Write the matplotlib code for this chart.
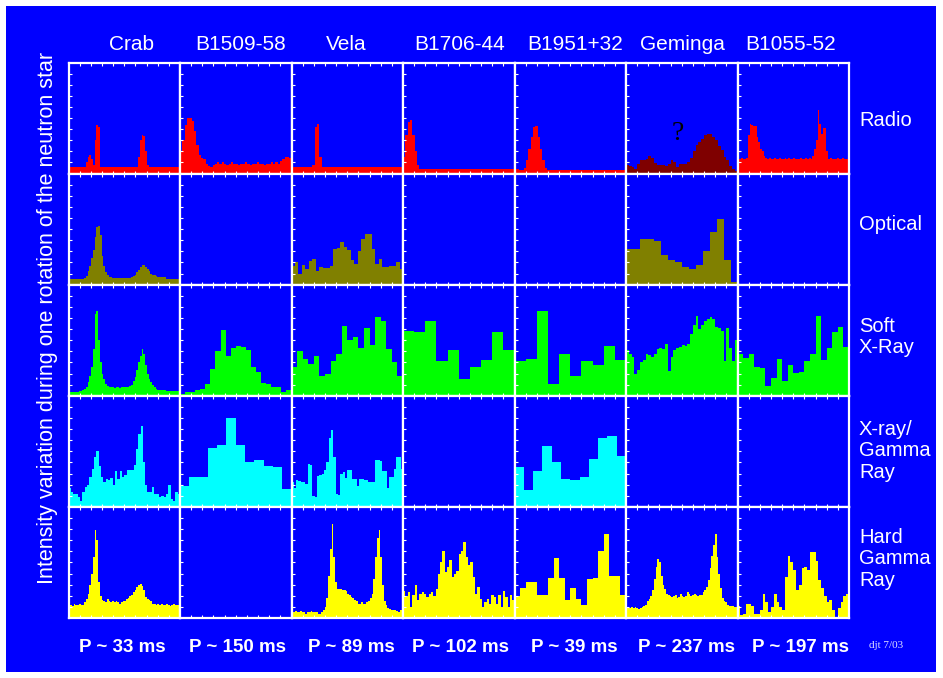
import numpy as np
import matplotlib
matplotlib.use("Agg")
import matplotlib.pyplot as plt
from matplotlib.patches import Rectangle

pulsars = ["Crab", "B1509-58", "Vela", "B1706-44", "B1951+32", "Geminga", "B1055-52"]
periods = ["P ~ 33 ms", "P ~ 150 ms", "P ~ 89 ms", "P ~ 102 ms", "P ~ 39 ms", "P ~ 237 ms", "P ~ 197 ms"]
bands = ["Radio", "Optical", "Soft\nX-Ray", "X-ray/\nGamma\nRay", "Hard\nGamma\nRay"]

# ---- radio ----
crab_radio = [0.06, 0.06, 0.06, 0.06, 0.06, 0.06, 0.06, 0.06,
              0.06, 0.06, 0.10, 0.15, 0.17, 0.13, 0.08, 0.30,
              0.44, 0.42, 0.06, 0.06, 0.06, 0.06, 0.06, 0.06,
              0.06, 0.06, 0.06, 0.06, 0.06, 0.06, 0.06, 0.06,
              0.06, 0.06, 0.06, 0.06, 0.06, 0.06, 0.06, 0.06,
              0.15, 0.30, 0.345, 0.34, 0.20, 0.08, 0.06, 0.06,
              0.06, 0.06, 0.06, 0.06, 0.06, 0.06, 0.06, 0.06,
              0.06, 0.06, 0.06, 0.06, 0.06, 0.06, 0.06, 0.06]
b1509_radio = [0.20, 0.30, 0.44, 0.50, 0.50, 0.47, 0.38, 0.26,
               0.17, 0.14, 0.13, 0.09, 0.07, 0.06, 0.08, 0.09,
               0.10, 0.09, 0.10, 0.09, 0.08, 0.09, 0.10, 0.09,
               0.09, 0.08, 0.09, 0.09, 0.10, 0.09, 0.08, 0.09,
               0.09, 0.10, 0.09, 0.09, 0.08, 0.09, 0.09, 0.10,
               0.09, 0.10, 0.09, 0.11, 0.13, 0.15, 0.15, 0.14]
vela_radio = [0.06, 0.06, 0.06, 0.06, 0.06, 0.06, 0.06, 0.06,
              0.06, 0.08, 0.42, 0.45, 0.15, 0.06, 0.06, 0.06,
              0.06, 0.06, 0.06, 0.06, 0.06, 0.06, 0.06, 0.06,
              0.06, 0.06, 0.06, 0.06, 0.06, 0.06, 0.06, 0.06,
              0.06, 0.06, 0.06, 0.06, 0.06, 0.06, 0.06, 0.06,
              0.06, 0.06, 0.06, 0.06, 0.06, 0.06, 0.06, 0.06]
b1706_radio = [0.15, 0.35, 0.46, 0.48, 0.35, 0.20, 0.08, 0.045,
               0.045, 0.045, 0.045, 0.045, 0.045, 0.045, 0.045, 0.045,
               0.045, 0.045, 0.045, 0.045, 0.045, 0.045, 0.045, 0.045,
               0.045, 0.045, 0.045, 0.045, 0.045, 0.045, 0.045, 0.045,
               0.045, 0.045, 0.045, 0.045, 0.045, 0.045, 0.045, 0.045,
               0.045, 0.045, 0.045, 0.045, 0.045, 0.045, 0.045, 0.045]
b1951_radio = [0.04, 0.04, 0.036, 0.036, 0.05, 0.12, 0.22, 0.33,
               0.42, 0.43, 0.33, 0.22, 0.12, 0.05, 0.036, 0.036,
               0.036, 0.036, 0.036, 0.036, 0.036, 0.036, 0.036, 0.036,
               0.036, 0.036, 0.036, 0.036, 0.036, 0.036, 0.036, 0.036,
               0.036, 0.036, 0.036, 0.036, 0.036, 0.036, 0.036, 0.036,
               0.036, 0.036, 0.036, 0.036, 0.036, 0.036, 0.036, 0.036]
geminga_radio = [0.075, 0.07, 0.06, 0.045, 0.09, 0.12, 0.12, 0.13,
                 0.155, 0.14, 0.095, 0.08, 0.075, 0.08, 0.07, 0.09,
                 0.12, 0.10, 0.06, 0.09, 0.085, 0.09, 0.10, 0.14,
                 0.20, 0.26, 0.28, 0.31, 0.35, 0.36, 0.36, 0.33,
                 0.30, 0.25, 0.21, 0.15, 0.12, 0.07, 0.04, 0.025]
b1055_radio = [0.135, 0.135, 0.14, 0.135, 0.135, 0.14, 0.35, 0.45,
               0.44, 0.43, 0.43, 0.33, 0.28, 0.22, 0.20, 0.16,
               0.14, 0.135, 0.14, 0.13, 0.135, 0.14, 0.135, 0.13,
               0.14, 0.135, 0.13, 0.14, 0.135, 0.14, 0.13, 0.135,
               0.14, 0.135, 0.13, 0.135, 0.14, 0.135, 0.13, 0.14,
               0.135, 0.14, 0.135, 0.16, 0.22, 0.30, 0.57, 0.45,
               0.36, 0.41, 0.41, 0.20, 0.135, 0.14, 0.135, 0.13,
               0.135, 0.14, 0.135, 0.13, 0.14, 0.135, 0.135, 0.13]

# ---- optical ----
crab_optical = [0.05, 0.05, 0.05, 0.05, 0.05, 0.05, 0.05, 0.05,
                0.05, 0.06, 0.08, 0.12, 0.17, 0.24, 0.31, 0.43,
                0.52, 0.53, 0.45, 0.26, 0.17, 0.11, 0.085, 0.07,
                0.065, 0.06, 0.06, 0.06, 0.06, 0.06, 0.06, 0.06,
                0.06, 0.06, 0.06, 0.06, 0.07, 0.08, 0.09, 0.11,
                0.13, 0.16, 0.18, 0.18, 0.16, 0.14, 0.12, 0.10,
                0.09, 0.085, 0.075, 0.07, 0.07, 0.07, 0.07, 0.07,
                0.055, 0.055, 0.055, 0.055, 0.055, 0.055, 0.055, 0.055]
vela_optical = [0.17, 0.20, 0.10, 0.18, 0.14, 0.21, 0.23, 0.12,
                0.16, 0.15, 0.15, 0.17, 0.32, 0.33, 0.38, 0.34,
                0.31, 0.22, 0.19, 0.30, 0.41, 0.46, 0.46, 0.32,
                0.19, 0.23, 0.16, 0.16, 0.17, 0.17, 0.20, 0.14]
geminga_optical = [0.32, 0.32, 0.41, 0.41, 0.39, 0.27, 0.22, 0.20,
                   0.16, 0.14, 0.18, 0.30, 0.47, 0.59, 0.22, 0.02]

# ---- soft X-ray ----
crab_soft = [0.035, 0.035, 0.035, 0.035, 0.035, 0.035, 0.04, 0.045,
             0.05, 0.065, 0.08, 0.12, 0.18, 0.26, 0.42, 0.74,
             0.76, 0.50, 0.30, 0.20, 0.15, 0.11, 0.09, 0.08,
             0.075, 0.075, 0.07, 0.075, 0.075, 0.07, 0.075, 0.075,
             0.075, 0.075, 0.08, 0.085, 0.10, 0.13, 0.17, 0.23,
             0.30, 0.36, 0.42, 0.38, 0.28, 0.20, 0.15, 0.12,
             0.10, 0.08, 0.065, 0.055, 0.055, 0.055, 0.055, 0.055,
             0.045, 0.045, 0.045, 0.045, 0.045, 0.045, 0.045, 0.045]
b1509_soft = [0.015, 0.03, 0.035, 0.05, 0.06, 0.11, 0.24, 0.40, 0.59, 0.36, 0.43,
              0.445, 0.44, 0.41, 0.26, 0.21, 0.115, 0.11, 0.08, 0.075, 0.03, 0.05]
vela_soft = [0.26, 0.40, 0.33, 0.285, 0.36, 0.18, 0.20, 0.315, 0.375, 0.625,
             0.50, 0.525, 0.43, 0.61, 0.46, 0.705, 0.675, 0.425, 0.30, 0.175]
b1706_soft = [0.58, 0.57, 0.67, 0.31, 0.41, 0.154, 0.257, 0.326, 0.57, 0.41]
b1951_soft = [0.31, 0.33, 0.76, 0.11, 0.38, 0.18, 0.31, 0.275, 0.45, 0.325]
geminga_soft = [0.41, 0.38, 0.35, 0.20, 0.23, 0.30, 0.32, 0.38, 0.37, 0.35,
                0.38, 0.42, 0.43, 0.42, 0.47, 0.22, 0.35, 0.41, 0.43, 0.44,
                0.46, 0.45, 0.47, 0.56, 0.64, 0.72, 0.60, 0.64, 0.67, 0.69,
                0.71, 0.69, 0.62, 0.61, 0.58, 0.31, 0.61, 0.43, 0.31, 0.50]
b1055_soft = [0.38, 0.34, 0.375, 0.26, 0.25, 0.09, 0.16, 0.33, 0.136, 0.28,
              0.205, 0.21, 0.31, 0.38, 0.72, 0.32, 0.43, 0.57, 0.62, 0.44]

# ---- X-ray / gamma ----
crab_xg = [0.17, 0.13, 0.12, 0.12, 0.09, 0.05, 0.13, 0.18,
           0.20, 0.27, 0.34, 0.45, 0.50, 0.37, 0.27, 0.22,
           0.25, 0.24, 0.26, 0.20, 0.32, 0.25, 0.32, 0.27,
           0.29, 0.33, 0.33, 0.33, 0.38, 0.52, 0.66, 0.73,
           0.40, 0.20, 0.13, 0.13, 0.18, 0.12, 0.12, 0.09,
           0.10, 0.09, 0.12, 0.20, 0.07, 0.05, 0.13, 0.12]
b1509_xg = [0.19, 0.27, 0.27, 0.53, 0.555, 0.80, 0.555, 0.405, 0.42, 0.37, 0.355, 0.157]
vela_xg = [0.22, 0.17, 0.24, 0.23, 0.22, 0.22, 0.21, 0.39,
           0.38, 0.10, 0.09, 0.28, 0.29, 0.30, 0.33, 0.40,
           0.62, 0.69, 0.45, 0.12, 0.11, 0.30, 0.31, 0.26,
           0.33, 0.33, 0.25, 0.25, 0.19, 0.25, 0.25, 0.24,
           0.24, 0.22, 0.22, 0.22, 0.42, 0.42, 0.41, 0.32,
           0.32, 0.17, 0.27, 0.27, 0.34, 0.45, 0.45, 0.34]
b1951_xg = [0.36, 0.15, 0.32, 0.545, 0.40, 0.25, 0.245, 0.27, 0.43, 0.62, 0.64, 0.46]

# ---- hard gamma ----
crab_hard = [0.10, 0.12, 0.11, 0.13, 0.12, 0.12, 0.13, 0.12,
             0.12, 0.14, 0.17, 0.22, 0.30, 0.40, 0.55, 0.79,
             0.70, 0.32, 0.20, 0.16, 0.15, 0.14, 0.17, 0.15,
             0.14, 0.15, 0.14, 0.15, 0.14, 0.13, 0.14, 0.15,
             0.15, 0.17, 0.18, 0.20, 0.21, 0.23, 0.25, 0.28,
             0.30, 0.31, 0.29, 0.25, 0.19, 0.17, 0.16, 0.15,
             0.13, 0.13, 0.12, 0.13, 0.12, 0.13, 0.12, 0.12,
             0.13, 0.12, 0.11, 0.12, 0.13, 0.12, 0.12, 0.12]
vela_hard = [0.05, 0.05, 0.06, 0.05, 0.05, 0.06, 0.05, 0.05,
             0.04, 0.05, 0.05, 0.06, 0.05, 0.05, 0.05, 0.04,
             0.04, 0.05, 0.07, 0.10, 0.18, 0.38, 0.62, 0.85,
             0.55, 0.32, 0.26, 0.26, 0.26, 0.25, 0.25, 0.24,
             0.22, 0.21, 0.19, 0.18, 0.16, 0.15, 0.13, 0.13,
             0.14, 0.13, 0.13, 0.14, 0.15, 0.18, 0.22, 0.35,
             0.55, 0.72, 0.79, 0.55, 0.30, 0.15, 0.12, 0.09,
             0.08, 0.07, 0.07, 0.07, 0.06, 0.05, 0.07, 0.07]
b1706_hard = [0.24, 0.20, 0.23, 0.10, 0.21, 0.30, 0.16, 0.22,
              0.23, 0.22, 0.19, 0.22, 0.23, 0.20, 0.26, 0.40,
              0.50, 0.60, 0.41, 0.46, 0.52, 0.37, 0.40, 0.42,
              0.58, 0.60, 0.68, 0.55, 0.48, 0.50, 0.37, 0.22,
              0.28, 0.17, 0.10, 0.14, 0.17, 0.13, 0.21, 0.19,
              0.13, 0.21, 0.10, 0.24, 0.19, 0.10, 0.21, 0.16]
b1951_hard = [0.20, 0.27, 0.32, 0.32, 0.21, 0.21, 0.36, 0.54, 0.36, 0.16,
              0.27, 0.17, 0.12, 0.355, 0.36, 0.60, 0.76, 0.38, 0.38, 0.21]
geminga_hard = [0.10, 0.09, 0.09, 0.10, 0.09, 0.10, 0.09, 0.08,
                0.09, 0.10, 0.11, 0.12, 0.15, 0.17, 0.20, 0.25,
                0.35, 0.46, 0.53, 0.50, 0.38, 0.30, 0.26, 0.22,
                0.21, 0.20, 0.19, 0.20, 0.21, 0.18, 0.19, 0.22,
                0.20, 0.19, 0.20, 0.23, 0.22, 0.20, 0.21, 0.22,
                0.21, 0.20, 0.21, 0.21, 0.23, 0.25, 0.28, 0.34,
                0.45, 0.56, 0.66, 0.76, 0.55, 0.40, 0.27, 0.18,
                0.15, 0.14, 0.12, 0.11, 0.11, 0.11, 0.10, 0.10]
b1055_hard = [0.11, 0.03, 0.04, 0.13, 0.13, 0.11, 0.04, 0.04, 0.07, 0.22,
              0.14, 0.05, 0.10, 0.22, 0.14, 0.10, 0.07, 0.37, 0.56, 0.50,
              0.43, 0.25, 0.30, 0.45, 0.46, 0.43, 0.59, 0.59, 0.51, 0.34,
              0.27, 0.20, 0.14, 0.16, 0.07, 0.01, 0.09, 0.14, 0.20, 0.22]

BLUE = "#0000FF"
RED = "#FF0000"
DARKRED = "#7F0000"
OLIVE = "#808000"
GREEN = "#00FF00"
CYAN = "#00FFFF"
YELLOW = "#FFFF00"

# (row, col) -> profile
profiles = {
    (0, 0): (crab_radio, RED), (0, 1): (b1509_radio, RED), (0, 2): (vela_radio, RED),
    (0, 3): (b1706_radio, RED), (0, 4): (b1951_radio, RED), (0, 5): (geminga_radio, DARKRED),
    (0, 6): (b1055_radio, RED),
    (1, 0): (crab_optical, OLIVE), (1, 2): (vela_optical, OLIVE), (1, 5): (geminga_optical, OLIVE),
    (2, 0): (crab_soft, GREEN), (2, 1): (b1509_soft, GREEN), (2, 2): (vela_soft, GREEN),
    (2, 3): (b1706_soft, GREEN), (2, 4): (b1951_soft, GREEN), (2, 5): (geminga_soft, GREEN),
    (2, 6): (b1055_soft, GREEN),
    (3, 0): (crab_xg, CYAN), (3, 1): (b1509_xg, CYAN), (3, 2): (vela_xg, CYAN),
    (3, 4): (b1951_xg, CYAN),
    (4, 0): (crab_hard, YELLOW), (4, 2): (vela_hard, YELLOW), (4, 3): (b1706_hard, YELLOW),
    (4, 4): (b1951_hard, YELLOW), (4, 5): (geminga_hard, YELLOW), (4, 6): (b1055_hard, YELLOW),
}

W, H = 943, 678
plt.rcParams["font.family"] = ["Liberation Sans", "DejaVu Sans"]
fig = plt.figure(figsize=(W / 100, H / 100), dpi=100, facecolor="white")


def fx(x):
    return x / W


def fy(y):
    return 1 - y / H


# blue slide background
fig.patches.append(Rectangle((fx(6), fy(672)), fx(936) - fx(6), fy(6) - fy(672),
                             transform=fig.transFigure, facecolor=BLUE,
                             edgecolor="none", zorder=-5))

grid_x0, cell_w = 68.5, 111.5
grid_y0, cell_h = 62.5, 111.1

for r in range(5):
    for c in range(7):
        left = grid_x0 + c * cell_w
        top = grid_y0 + r * cell_h
        ax = fig.add_axes([fx(left), fy(top + cell_h), cell_w / W, cell_h / H])
        ax.set_facecolor(BLUE)
        ax.set_xlim(0, 1)
        ax.set_ylim(0, 1)
        for s in ax.spines.values():
            s.set_color("white")
            s.set_linewidth(1.6)
        ax.set_xticks(np.arange(0.1, 1.0, 0.1))
        ax.set_yticks(np.arange(0.1, 1.0, 0.1))
        ax.tick_params(direction="in", colors="white", length=2.5, width=0.8,
                       top=True, bottom=True, left=True, right=False,
                       labelbottom=False, labelleft=False)
        if (r, c) in profiles:
            vals, col = profiles[(r, c)]
            edges = np.linspace(0, 1, len(vals) + 1)
            ax.stairs(vals, edges, fill=True, color=col, lw=0)

# column titles
title_x = [131, 241, 346, 460, 575, 682, 791]
for name, x in zip(pulsars, title_x):
    fig.text(fx(x), fy(45), name, color="white", fontsize=15, ha="center", va="center")

# row labels
row_y = [120, 224, 337, 451, 559]
for lab, y in zip(bands, row_y):
    fig.text(fx(859), fy(y), lab, color="white", fontsize=14.5, ha="left", va="center",
             linespacing=1.15)

# period labels
period_x = [122, 237, 351, 461, 574, 687, 800]
for p, x in zip(periods, period_x):
    fig.text(fx(x), fy(647), p, color="white", fontsize=13.5, fontweight="bold",
             ha="center", va="center")

fig.text(fx(48), fy(318), "Intensity variation during one rotation of the neutron star",
         color="white", fontsize=15.5, rotation=90, ha="center", va="center")

fig.text(fx(886), fy(645), "djt 7/03", color="#E0E0FF", fontsize=8,
         family=["Liberation Serif", "DejaVu Serif"], ha="center", va="center")

fig.text(fx(678), fy(133), "?", color="black", fontsize=20,
         family=["Liberation Serif", "DejaVu Serif"], ha="center", va="center")

fig.savefig("out.png", dpi=100, facecolor="white")
